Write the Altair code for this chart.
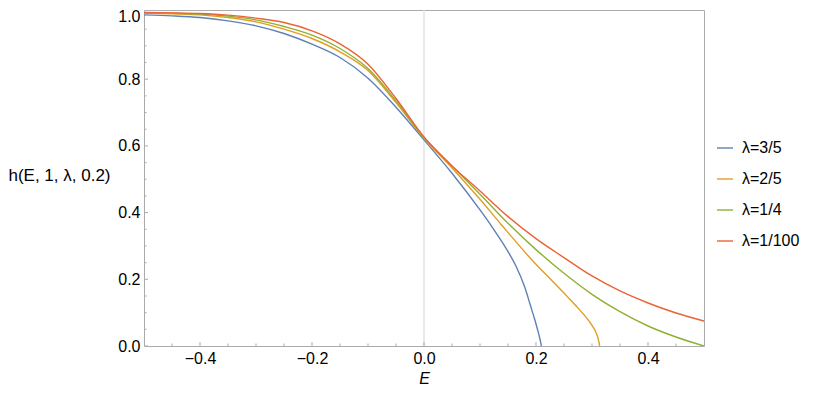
import altair as alt
import pandas as pd

# ---- data ----
E_a = [-0.5, -0.45, -0.4, -0.35, -0.3, -0.25, -0.2, -0.15, -0.1, -0.05, 0.0, 0.05, 0.1, 0.122, 0.137, 0.15, 0.165, 0.18, 0.19, 0.198, 0.203, 0.2065, 0.2085, 0.2096]
H_a = [0.993, 0.990, 0.985, 0.975, 0.960, 0.937, 0.905, 0.865, 0.803, 0.716, 0.618, 0.518, 0.408, 0.356, 0.318, 0.283, 0.237, 0.176, 0.122, 0.078, 0.048, 0.025, 0.010, 0.0]

E_b = [-0.5, -0.45, -0.4, -0.35, -0.3, -0.25, -0.2, -0.15, -0.1, -0.05, 0.0, 0.05, 0.1, 0.137, 0.196, 0.226, 0.256, 0.276, 0.29, 0.3, 0.306, 0.311, 0.3137]
H_b = [0.998, 0.996, 0.993, 0.985, 0.972, 0.950, 0.922, 0.882, 0.826, 0.730, 0.623, 0.534, 0.440, 0.366, 0.252, 0.200, 0.148, 0.112, 0.085, 0.062, 0.045, 0.022, 0.0]

E_c = [-0.5, -0.45, -0.4, -0.35, -0.3, -0.25, -0.2, -0.15, -0.1, -0.05, 0.0, 0.05, 0.1, 0.15, 0.2, 0.25, 0.3, 0.35, 0.4, 0.45, 0.5]
H_c = [0.999, 0.998, 0.995, 0.989, 0.978, 0.958, 0.932, 0.892, 0.832, 0.735, 0.625, 0.540, 0.455, 0.368, 0.289, 0.218, 0.155, 0.103, 0.060, 0.027, 0.0]

E_d = [-0.5, -0.45, -0.4, -0.35, -0.3, -0.25, -0.2, -0.15, -0.1, -0.05, 0.0, 0.05, 0.1, 0.15, 0.2, 0.25, 0.3, 0.35, 0.4, 0.45, 0.5]
H_d = [1.0, 0.999, 0.997, 0.992, 0.983, 0.970, 0.945, 0.906, 0.845, 0.742, 0.627, 0.540, 0.465, 0.388, 0.322, 0.265, 0.210, 0.165, 0.129, 0.099, 0.075]

labels = ["λ=3/5", "λ=2/5", "λ=1/4", "λ=1/100"]
colors = ["#5E81B5", "#E19C24", "#8FB032", "#EB6235"]

x_major = [-0.4, -0.2, 0.0, 0.2, 0.4]
x_minor = [-0.45, -0.35, -0.3, -0.25, -0.15, -0.1, -0.05, 0.05, 0.1, 0.15, 0.25, 0.3, 0.35, 0.45]
y_major = [0.0, 0.2, 0.4, 0.6, 0.8, 1.0]
y_minor = [0.05, 0.1, 0.15, 0.25, 0.3, 0.35, 0.45, 0.5, 0.55, 0.65, 0.7, 0.75, 0.85, 0.9, 0.95]
grid_x = [0.0]

rows = []
for lab, es, hs in zip(labels, [E_a, E_b, E_c, E_d], [H_a, H_b, H_c, H_d]):
    for e, h in zip(es, hs):
        rows.append({"series": lab, "E": e, "h": h})
df = pd.DataFrame(rows)

FONT = "Liberation Sans"
GRAY = "#ababab"
PH = 336
xscale = alt.Scale(domain=[-0.5, 0.5], nice=False, zero=False)
yscale = alt.Scale(domain=[0, 1.0075], nice=False, zero=False)

grid = alt.Chart(pd.DataFrame({"E": grid_x})).mark_rule(color="#e3e3e3", strokeWidth=1.5).encode(
    x=alt.X("E:Q", scale=xscale)
)
xt_major = alt.Chart(pd.DataFrame({"E": x_major})).mark_rule(color=GRAY, strokeWidth=1).encode(
    x=alt.X("E:Q", scale=xscale), y=alt.value(PH), y2=alt.value(PH - 4)
)
xt_minor = alt.Chart(pd.DataFrame({"E": x_minor})).mark_rule(color=GRAY, strokeWidth=1).encode(
    x=alt.X("E:Q", scale=xscale), y=alt.value(PH), y2=alt.value(PH - 2.5)
)
yt_major = alt.Chart(pd.DataFrame({"h": y_major})).mark_rule(color=GRAY, strokeWidth=1).encode(
    y=alt.Y("h:Q", scale=yscale), x=alt.value(0), x2=alt.value(4)
)
yt_minor = alt.Chart(pd.DataFrame({"h": y_minor})).mark_rule(color=GRAY, strokeWidth=1).encode(
    y=alt.Y("h:Q", scale=yscale), x=alt.value(0), x2=alt.value(2.5)
)

lines = alt.Chart(df).mark_line(strokeWidth=1.4, interpolate="monotone", clip=True).encode(
    x=alt.X("E:Q", scale=xscale,
            axis=alt.Axis(values=x_major, format=".1f", title="E", titleFontStyle="italic",
                          titleFontWeight="normal", titleFontSize=16, titleBaseline="alphabetic",
                          titleY=37, labelFontSize=16, labelFont=FONT, labelColor="black",
                          labelPadding=4, grid=False, ticks=False, domain=False)),
    y=alt.Y("h:Q", scale=yscale,
            axis=alt.Axis(values=y_major, format=".1f", title="h(E, 1, λ, 0.2)",
                          titleAngle=0, titleAlign="right", titleBaseline="middle",
                          titleX=-34, titleY=165, titleFontWeight="normal", titleFontSize=17,
                          labelFontSize=16, labelFont=FONT, labelColor="black",
                          labelOffset={"condition": {"test": "datum.value >= 0.99", "value": 4},
                                       "value": 0},
                          labelPadding=4, grid=False, ticks=False, domain=False)),
    color=alt.Color("series:N", scale=alt.Scale(domain=labels, range=colors),
                    legend=alt.Legend(title=None, orient="none", legendX=572, legendY=129,
                                      symbolType="stroke", symbolSize=256, symbolStrokeWidth=1.4,
                                      labelFontSize=16, labelFont=FONT, rowPadding=14,
                                      labelOffset=8, labelColor="black")),
    order=alt.Order("E:Q"),
)

chart = alt.layer(grid, xt_major, xt_minor, yt_major, yt_minor, lines).properties(
    width=560, height=PH,
    background="white",
    autosize=alt.AutoSizeParams(type="none"),
    padding={"left": 136, "top": 2, "right": 105, "bottom": 39},
).configure_view(
    stroke=GRAY, strokeWidth=1
).configure_axis(
    labelFont=FONT, titleFont=FONT, titleColor="black"
)

chart.save("out.html", embed_options={"renderer": "svg", "actions": False})
